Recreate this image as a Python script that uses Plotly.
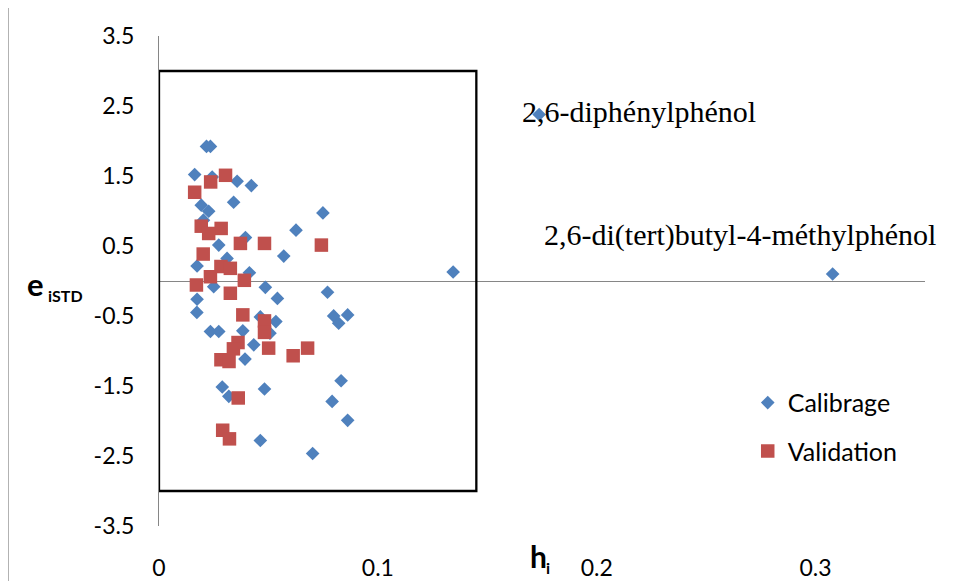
import plotly.graph_objects as go

# ---- data ----
calib_h = [0.0217, 0.0235, 0.0163, 0.0243, 0.0357, 0.0422, 0.0341, 0.0193, 0.0227, 0.0203,
           0.0395, 0.0749, 0.0626, 0.0273, 0.0570, 0.0311, 0.0174, 0.0413, 0.0250, 0.0486,
           0.0541, 0.0770, 0.0174, 0.0173, 0.0235, 0.0273, 0.0383, 0.0463, 0.0534, 0.0507,
           0.0433, 0.0393, 0.0798, 0.0862, 0.0821, 0.0289, 0.0319, 0.0482, 0.0832, 0.0791,
           0.0862, 0.0463, 0.0702, 0.1344, 0.1737, 0.3078]
calib_e = [1.923, 1.923, 1.520, 1.486, 1.425, 1.363, 1.125, 1.083, 0.997, 0.869,
           0.620, 0.973, 0.726, 0.513, 0.356, 0.323, 0.214, 0.118, -0.081, -0.090,
           -0.249, -0.161, -0.261, -0.449, -0.722, -0.722, -0.712, -0.513, -0.580, -0.745,
           -0.912, -1.115, -0.499, -0.484, -0.603, -1.514, -1.648, -1.543, -1.425, -1.720,
           -1.990, -2.279, -2.464, 0.128, 2.379, 0.100]

valid_h = [0.0304, 0.0236, 0.0163, 0.0193, 0.0284, 0.0227, 0.0372, 0.0482, 0.0742, 0.0202,
           0.0283, 0.0326, 0.0235, 0.0390, 0.0171, 0.0326, 0.0383, 0.0482, 0.0482, 0.0501,
           0.0361, 0.0340, 0.0283, 0.0320, 0.0679, 0.0613, 0.0362, 0.0291, 0.0322]
valid_e = [1.510, 1.415, 1.268, 0.783, 0.751, 0.679, 0.537, 0.537, 0.513, 0.385,
           0.207, 0.181, 0.061, 0.010, -0.057, -0.175, -0.484, -0.570, -0.734, -0.959,
           -0.879, -0.969, -1.125, -1.150, -0.959, -1.068, -1.671, -2.132, -2.255]

h_star = 0.145        # warning leverage
e_limit = 3.0         # standardized residual limit
box_h = [0, h_star, h_star, 0, 0]
box_e = [e_limit, e_limit, -e_limit, -e_limit, e_limit]

x_ticks = [0, 0.1, 0.2, 0.3]
x_ticktext = ["0", "0.1", "0.2", "0.3"]
y_ticks = [-3.5, -2.5, -1.5, -0.5, 0.5, 1.5, 2.5, 3.5]
y_ticktext = ["-3.5", "-2.5", "-1.5", "-0.5", "0.5", "1.5", "2.5", "3.5"]

labels = ["2,6-diphénylphénol", "2,6-di(tert)butyl-4-méthylphénol"]
label_h = [0.1650, 0.1750]
label_e = [2.42, 0.655]

FONT = "Lato"
GRAY = "#868686"

# page body has an 8px margin: figure is 959x573 so the plot area lands where the reference has it
PW, PH = 767.0, 491.0  # plot area size in px
def px_x(p):
    return (p - 158.5) / PW
def px_y(p):
    return (526.5 - p) / PH

fig = go.Figure()
fig.add_trace(go.Scatter(x=box_h, y=box_e, mode="lines",
                         line=dict(color="black", width=2.3),
                         showlegend=False, hoverinfo="skip"))
fig.add_trace(go.Scatter(x=calib_h, y=calib_e, mode="markers", name="Calibrage",
                         legendgroup="a",
                         marker=dict(symbol="diamond", size=10.5, color="#4F81BD",
                                     line=dict(width=0))))
fig.add_trace(go.Scatter(x=valid_h, y=valid_e, mode="markers", name="Validation",
                         legendgroup="b",
                         marker=dict(symbol="square", size=13.5, color="#C0504D",
                                     line=dict(width=0))))

for t, hx, ey in zip(labels, label_h, label_e):
    fig.add_annotation(x=hx, y=ey, xref="x", yref="y", text=t, showarrow=False,
                       xanchor="left", yanchor="middle",
                       font=dict(family="Liberation Serif", size=30, color="black"))

# axis titles
fig.add_annotation(xref="paper", yref="paper", x=px_x(24), y=px_y(284),
                   text="<b>e</b>", showarrow=False, xanchor="left", yanchor="middle",
                   font=dict(family=FONT, size=31, color="black"))
fig.add_annotation(xref="paper", yref="paper", x=px_x(45), y=px_y(296),
                   text="<b>iSTD</b>", showarrow=False, xanchor="left", yanchor="middle",
                   font=dict(family=FONT, size=16, color="black"))
fig.add_annotation(xref="paper", yref="paper", x=px_x(528), y=px_y(557),
                   text="<b>h</b>", showarrow=False, xanchor="left", yanchor="middle",
                   font=dict(family=FONT, size=30, color="black"))
fig.add_annotation(xref="paper", yref="paper", x=px_x(544), y=px_y(568),
                   text="<b>i</b>", showarrow=False, xanchor="left", yanchor="middle",
                   font=dict(family=FONT, size=16, color="black"))

# outer chart border
fig.add_shape(type="rect", xref="paper", yref="paper",
              x0=px_x(7.3), x1=1.3, y0=-0.5, y1=px_y(5.7),
              line=dict(color="#898989", width=1.3), fillcolor="rgba(0,0,0,0)", layer="below")

fig.update_layout(
    width=959, height=573, autosize=False,
    margin=dict(l=150.5, r=41.5, t=27.7, b=54.5, autoexpand=False),
    paper_bgcolor="white", plot_bgcolor="white",
    font=dict(family=FONT, size=22, color="black"),
    showlegend=True,
    legend=dict(x=px_x(748), y=px_y(380), xanchor="left", yanchor="top",
                bgcolor="rgba(0,0,0,0)", tracegroupgap=13,
                font=dict(family=FONT, size=25, color="black")),
    xaxis=dict(range=[0, 0.35], tickvals=x_ticks, ticktext=x_ticktext,
               showgrid=False, zeroline=False, showline=False, ticks="",
               automargin=False,
               ticklabelstandoff=26, tickfont=dict(size=23)),
    yaxis=dict(range=[-3.5, 3.5], tickvals=y_ticks, ticktext=y_ticktext,
               showgrid=False, zeroline=True, zerolinecolor=GRAY, zerolinewidth=1.3,
               showline=True, linecolor=GRAY, linewidth=1.3, ticks="",
               automargin=False,
               ticklabelstandoff=19, tickfont=dict(size=23)),
)

fig.write_html("out.html")
